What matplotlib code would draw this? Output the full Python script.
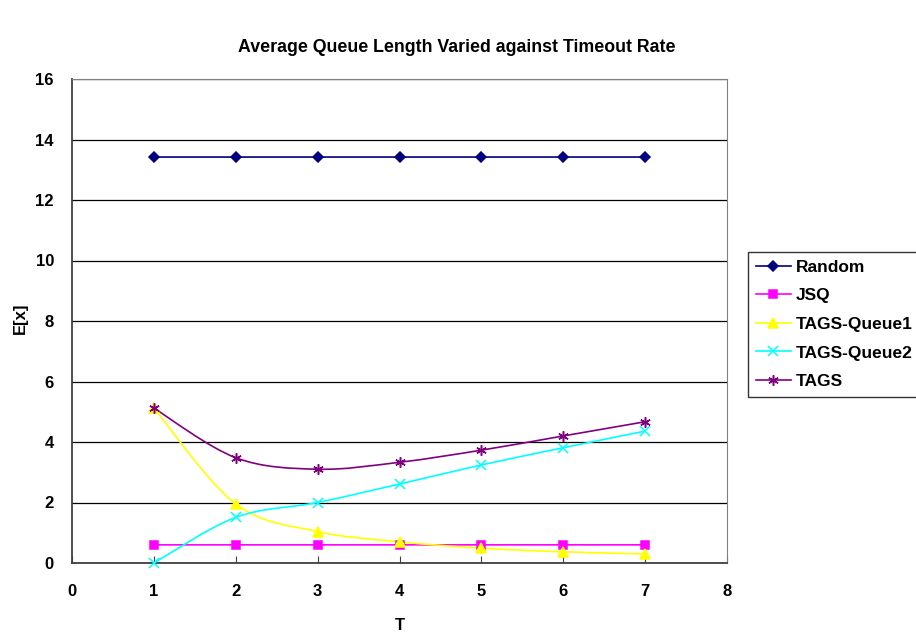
import numpy as np
import matplotlib.pyplot as plt
from matplotlib.path import Path
from matplotlib.patches import PathPatch

plt.rcParams['font.family'] = ['Liberation Sans', 'DejaVu Sans']
plt.rcParams['font.weight'] = 'bold'

T = [1, 2, 3, 4, 5, 6, 7]
random_q = [13.42, 13.42, 13.42, 13.42, 13.42, 13.42, 13.42]
jsq = [0.6, 0.6, 0.6, 0.6, 0.6, 0.6, 0.6]
tags_q1 = [5.12, 1.95, 1.04, 0.70, 0.49, 0.37, 0.30]
tags_q2 = [0.0, 1.51, 2.0, 2.61, 3.24, 3.81, 4.36]
tags = [5.12, 3.48, 3.10, 3.33, 3.73, 4.20, 4.67]

series = [
    ('Random', random_q, '#000080', 'D', 5),
    ('JSQ', jsq, '#FF00FF', 's', 5.5),
    ('TAGS-Queue1', tags_q1, '#FFFF00', '^', 7),
    ('TAGS-Queue2', tags_q2, '#00FFFF', 'x', 6.5),
    ('TAGS', tags, '#800080', (6, 2, 0), 7.5),
]


def smooth_path(x, y):
    # excel-like smoothed line: bezier with catmull-rom control points
    p = np.column_stack([x, y]).astype(float)
    n = len(p)
    verts = [p[0]]
    codes = [Path.MOVETO]
    for i in range(n - 1):
        prev = p[i - 1] if i > 0 else p[i]
        nxt = p[i + 2] if i + 2 < n else p[i + 1]
        c1 = p[i] + (p[i + 1] - prev) / 6.0
        c2 = p[i + 1] - (nxt - p[i]) / 6.0
        verts += [c1, c2, p[i + 1]]
        codes += [Path.CURVE4] * 3
    return Path(verts, codes)


fig = plt.figure(figsize=(9.16, 6.33), dpi=100)
ax = fig.add_axes([72 / 916, 1 - 563 / 633, (727 - 72) / 916, (563 - 79) / 633])

for name, vals, col, mk, ms in series:
    ax.add_patch(PathPatch(smooth_path(T, vals), facecolor='none', edgecolor=col, lw=1.2, zorder=3))
    ax.plot(T, vals, linestyle='none', marker=mk, color=col, markersize=ms,
            markeredgecolor=col, markeredgewidth=1.1, zorder=4, clip_on=False)
    # legend proxy
    ax.plot([], [], color=col, marker=mk, markersize=ms, markeredgewidth=1.1, lw=1.2, label=name)

ax.set_xlim(0, 8)
ax.set_ylim(0, 16)
ax.set_xticks(range(0, 9))
ax.set_yticks(range(0, 17, 2))
ax.yaxis.grid(True, color='black', lw=0.9)
ax.set_axisbelow(True)
for s in ['top', 'right']:
    ax.spines[s].set_color('#808080')
for s in ['left', 'bottom']:
    ax.spines[s].set_color('#404040')
    ax.spines[s].set_linewidth(1.3)
ax.tick_params(axis='x', labelsize=12, length=5, direction='in', color='#404040', pad=15)
ax.tick_params(axis='y', labelsize=12, length=0, pad=13)

fig.text(400 / 916, 1 - 625 / 633, 'T', ha='center', va='center', fontsize=12, fontweight='bold')
fig.text(20 / 916, 1 - 318 / 633, 'E[x]', ha='center', va='center', rotation=90,
         fontsize=12, fontweight='bold')
fig.text(457 / 916, 1 - 47 / 633, 'Average Queue Length Varied against Timeout Rate',
         ha='center', va='center', fontsize=12.8, fontweight='bold')

leg = fig.legend(loc='upper left', bbox_to_anchor=(748 / 916, 1 - 252 / 633),
                 fontsize=12.5, frameon=True, fancybox=False, edgecolor='black',
                 handlelength=2.0, borderpad=0.45, labelspacing=0.77, handletextpad=0.3,
                 borderaxespad=0)
leg.get_frame().set_linewidth(1.0)

fig.savefig('out.png', dpi=100)
